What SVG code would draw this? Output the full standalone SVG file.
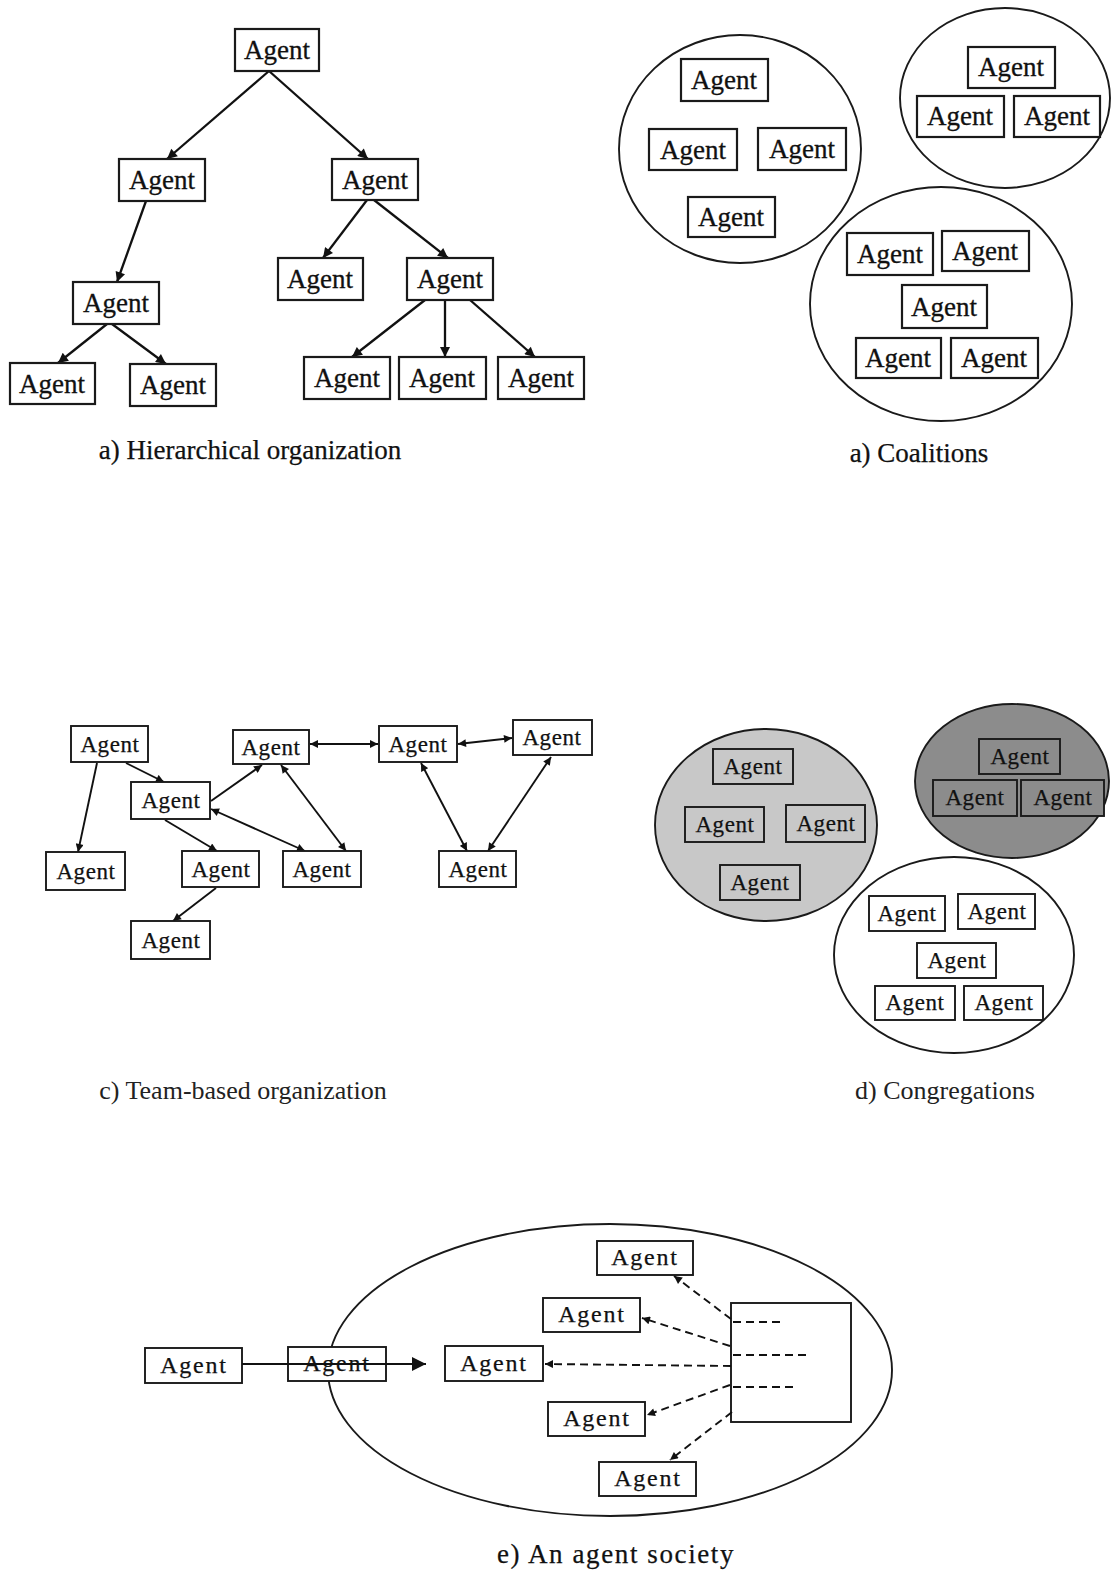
<svg xmlns="http://www.w3.org/2000/svg" width="1111" height="1573" viewBox="0 0 1111 1573">
  <style>
    .bg { fill: #ffffff; }
    .box { fill: #ffffff; stroke: #1a1a1a; stroke-width: 2.2; }
    .boxs { fill: #ffffff; stroke: #1a1a1a; stroke-width: 1.9; }
    .lt { fill: #c8c8c8; stroke: #1a1a1a; stroke-width: 1.9; }
    .dk { fill: #8c8c8c; stroke: #1a1a1a; stroke-width: 1.9; }
    .ring { fill: none; stroke: #1a1a1a; stroke-width: 1.9; }
    .lbl { font-family: "Liberation Serif", "Times New Roman", serif; font-size: 27px; fill: #111; stroke: #111; stroke-width: 0.3; text-anchor: middle; }
    .lbls { font-family: "Liberation Serif", "Times New Roman", serif; font-size: 23px; fill: #111; stroke: #111; stroke-width: 0.25; text-anchor: middle; letter-spacing: 0.6px; }
    .lble { font-family: "Liberation Serif", "Times New Roman", serif; font-size: 24px; fill: #111; stroke: #111; stroke-width: 0.25; text-anchor: middle; letter-spacing: 1.8px; }
    .cap { font-family: "Liberation Serif", "Times New Roman", serif; font-size: 27px; fill: #111; stroke: #111; stroke-width: 0.25; text-anchor: middle; }
    .capg { font-family: "Liberation Serif", "Times New Roman", serif; font-size: 26px; fill: #222; text-anchor: middle; }
    .edge { fill: none; stroke: #111; stroke-width: 2.3; }
    .edges { fill: none; stroke: #111; stroke-width: 1.9; }
    .dash { fill: none; stroke: #111; stroke-width: 1.9; stroke-dasharray: 8 5; }
  </style>
  <defs>
    <marker id="ah" viewBox="0 0 10 10" refX="10" refY="5" markerWidth="13" markerHeight="10" markerUnits="userSpaceOnUse" orient="auto-start-reverse">
      <path d="M0,0 L10,5 L0,10 z" fill="#111"/>
    </marker>
    <marker id="ahs" viewBox="0 0 10 10" refX="10" refY="5" markerWidth="10" markerHeight="8" markerUnits="userSpaceOnUse" orient="auto-start-reverse">
      <path d="M0,0 L10,5 L0,10 z" fill="#111"/>
    </marker>
    <marker id="ahb" viewBox="0 0 10 10" refX="10" refY="5" markerWidth="18" markerHeight="14" markerUnits="userSpaceOnUse" orient="auto">
      <path d="M0,0 L10,5 L0,10 z" fill="#111"/>
    </marker>
  </defs>
  <rect class="bg" x="0" y="0" width="1111" height="1573"/>

  <!-- a) Hierarchical organization -->
  <g id="hier-edges">
    <line class="edge" x1="269" y1="71" x2="167" y2="159" marker-end="url(#ah)"/>
    <line class="edge" x1="269" y1="71" x2="368" y2="159" marker-end="url(#ah)"/>
    <line class="edge" x1="146" y1="201" x2="117" y2="282" marker-end="url(#ah)"/>
    <line class="edge" x1="107" y1="324" x2="58" y2="363" marker-end="url(#ah)"/>
    <line class="edge" x1="112" y1="324" x2="166" y2="364" marker-end="url(#ah)"/>
    <line class="edge" x1="367" y1="200" x2="323" y2="258" marker-end="url(#ah)"/>
    <line class="edge" x1="374" y1="200" x2="448" y2="258" marker-end="url(#ah)"/>
    <line class="edge" x1="425" y1="300" x2="352" y2="357" marker-end="url(#ah)"/>
    <line class="edge" x1="445" y1="300" x2="445" y2="357" marker-end="url(#ah)"/>
    <line class="edge" x1="470" y1="300" x2="535" y2="357" marker-end="url(#ah)"/>
  </g>
  <g id="h-root"><rect class="box" x="235" y="29" width="84" height="42"/><text class="lbl" x="277" y="59">Agent</text></g>
  <g id="h-l1a"><rect class="box" x="119" y="159" width="86" height="42"/><text class="lbl" x="162" y="189">Agent</text></g>
  <g id="h-l1b"><rect class="box" x="332" y="159" width="86" height="41"/><text class="lbl" x="375" y="189">Agent</text></g>
  <g id="h-l2a"><rect class="box" x="73" y="282" width="86" height="42"/><text class="lbl" x="116" y="312">Agent</text></g>
  <g id="h-l2b"><rect class="box" x="278" y="258" width="85" height="42"/><text class="lbl" x="320" y="288">Agent</text></g>
  <g id="h-l2c"><rect class="box" x="407" y="258" width="86" height="42"/><text class="lbl" x="450" y="288">Agent</text></g>
  <g id="h-b1"><rect class="box" x="10" y="363" width="85" height="41"/><text class="lbl" x="52" y="393">Agent</text></g>
  <g id="h-b2"><rect class="box" x="130" y="364" width="86" height="42"/><text class="lbl" x="173" y="394">Agent</text></g>
  <g id="h-b3"><rect class="box" x="304" y="357" width="86" height="42"/><text class="lbl" x="347" y="387">Agent</text></g>
  <g id="h-b4"><rect class="box" x="399" y="357" width="87" height="42"/><text class="lbl" x="442" y="387">Agent</text></g>
  <g id="h-b5"><rect class="box" x="498" y="357" width="86" height="42"/><text class="lbl" x="541" y="387">Agent</text></g>
  <text class="cap" x="250" y="459">a) Hierarchical organization</text>

  <!-- b) Coalitions -->
  <g id="coalition-1">
    <ellipse class="ring" cx="740" cy="149" rx="121" ry="114"/>
    <rect class="box" x="681" y="59" width="87" height="42"/><text class="lbl" x="724" y="89">Agent</text>
    <rect class="box" x="649" y="129" width="88" height="41"/><text class="lbl" x="693" y="159">Agent</text>
    <rect class="box" x="758" y="128" width="88" height="42"/><text class="lbl" x="802" y="158">Agent</text>
    <rect class="box" x="688" y="197" width="87" height="40"/><text class="lbl" x="731" y="226">Agent</text>
  </g>
  <g id="coalition-2">
    <ellipse class="ring" cx="1005" cy="98" rx="105" ry="90"/>
    <rect class="box" x="968" y="47" width="87" height="41"/><text class="lbl" x="1011" y="76">Agent</text>
    <rect class="box" x="917" y="96" width="87" height="41"/><text class="lbl" x="960" y="125">Agent</text>
    <rect class="box" x="1014" y="96" width="86" height="41"/><text class="lbl" x="1057" y="125">Agent</text>
  </g>
  <g id="coalition-3">
    <ellipse class="ring" cx="941" cy="304" rx="131" ry="117"/>
    <rect class="box" x="847" y="233" width="86" height="42"/><text class="lbl" x="890" y="263">Agent</text>
    <rect class="box" x="942" y="231" width="87" height="40"/><text class="lbl" x="985" y="260">Agent</text>
    <rect class="box" x="902" y="285" width="85" height="43"/><text class="lbl" x="944" y="316">Agent</text>
    <rect class="box" x="856" y="338" width="85" height="40"/><text class="lbl" x="898" y="367">Agent</text>
    <rect class="box" x="951" y="338" width="87" height="40"/><text class="lbl" x="994" y="367">Agent</text>
  </g>
  <text class="cap" x="919" y="462">a) Coalitions</text>

  <!-- c) Team-based organization -->
  <g id="team-edges">
    <line class="edges" x1="97" y1="763" x2="78" y2="852" marker-end="url(#ahs)"/>
    <line class="edges" x1="126" y1="763" x2="164" y2="782" marker-end="url(#ahs)"/>
    <line class="edges" x1="211" y1="801" x2="262" y2="765" marker-end="url(#ahs)"/>
    <line class="edges" x1="211" y1="809" x2="305" y2="851" marker-start="url(#ahs)" marker-end="url(#ahs)"/>
    <line class="edges" x1="281" y1="765" x2="346" y2="851" marker-start="url(#ahs)" marker-end="url(#ahs)"/>
    <line class="edges" x1="310" y1="744" x2="378" y2="744" marker-start="url(#ahs)" marker-end="url(#ahs)"/>
    <line class="edges" x1="458" y1="744" x2="512" y2="738" marker-start="url(#ahs)" marker-end="url(#ahs)"/>
    <line class="edges" x1="421" y1="763" x2="467" y2="851" marker-start="url(#ahs)" marker-end="url(#ahs)"/>
    <line class="edges" x1="551" y1="757" x2="488" y2="851" marker-start="url(#ahs)" marker-end="url(#ahs)"/>
    <line class="edges" x1="165" y1="820" x2="217" y2="851" marker-end="url(#ahs)"/>
    <line class="edges" x1="216" y1="888" x2="173" y2="921" marker-end="url(#ahs)"/>
  </g>
  <g id="t-1"><rect class="boxs" x="71" y="726" width="77" height="36"/><text class="lbls" x="110" y="752">Agent</text></g>
  <g id="t-2"><rect class="boxs" x="233" y="730" width="76" height="34"/><text class="lbls" x="271" y="755">Agent</text></g>
  <g id="t-3"><rect class="boxs" x="379" y="726" width="78" height="36"/><text class="lbls" x="418" y="752">Agent</text></g>
  <g id="t-4"><rect class="boxs" x="513" y="720" width="79" height="35"/><text class="lbls" x="552" y="745">Agent</text></g>
  <g id="t-5"><rect class="boxs" x="131" y="782" width="79" height="37"/><text class="lbls" x="171" y="808">Agent</text></g>
  <g id="t-6"><rect class="boxs" x="46" y="852" width="79" height="38"/><text class="lbls" x="86" y="879">Agent</text></g>
  <g id="t-7"><rect class="boxs" x="182" y="851" width="77" height="36"/><text class="lbls" x="221" y="877">Agent</text></g>
  <g id="t-8"><rect class="boxs" x="283" y="851" width="78" height="36"/><text class="lbls" x="322" y="877">Agent</text></g>
  <g id="t-9"><rect class="boxs" x="439" y="851" width="77" height="36"/><text class="lbls" x="478" y="877">Agent</text></g>
  <g id="t-10"><rect class="boxs" x="131" y="921" width="79" height="38"/><text class="lbls" x="171" y="948">Agent</text></g>
  <text class="capg" x="243" y="1099">c) Team-based organization</text>

  <!-- d) Congregations -->
  <g id="congregation-light">
    <ellipse class="lt" cx="766" cy="825" rx="111" ry="96"/>
    <rect class="lt" x="713" y="749" width="80" height="35"/><text class="lbls" x="753" y="774">Agent</text>
    <rect class="lt" x="685" y="807" width="79" height="35"/><text class="lbls" x="725" y="832">Agent</text>
    <rect class="lt" x="786" y="805" width="79" height="37"/><text class="lbls" x="826" y="831">Agent</text>
    <rect class="lt" x="720" y="865" width="80" height="35"/><text class="lbls" x="760" y="890">Agent</text>
  </g>
  <g id="congregation-dark">
    <ellipse class="dk" cx="1012" cy="781" rx="97" ry="77"/>
    <rect class="dk" x="979" y="739" width="81" height="35"/><text class="lbls" x="1020" y="764">Agent</text>
    <rect class="dk" x="933" y="780" width="84" height="36"/><text class="lbls" x="975" y="805">Agent</text>
    <rect class="dk" x="1021" y="780" width="83" height="36"/><text class="lbls" x="1063" y="805">Agent</text>
  </g>
  <g id="congregation-open">
    <ellipse class="ring" cx="954" cy="955" rx="120" ry="98"/>
    <rect class="boxs" x="869" y="896" width="76" height="35"/><text class="lbls" x="907" y="921">Agent</text>
    <rect class="boxs" x="958" y="894" width="77" height="35"/><text class="lbls" x="997" y="919">Agent</text>
    <rect class="boxs" x="917" y="943" width="79" height="35"/><text class="lbls" x="957" y="968">Agent</text>
    <rect class="boxs" x="875" y="986" width="80" height="34"/><text class="lbls" x="915" y="1010">Agent</text>
    <rect class="boxs" x="964" y="986" width="79" height="34"/><text class="lbls" x="1004" y="1010">Agent</text>
  </g>
  <text class="capg" x="945" y="1099">d) Congregations</text>

  <!-- e) An agent society -->
  <ellipse id="society" class="ring" cx="610" cy="1370" rx="282" ry="146"/>
  <g id="s-outside"><rect class="boxs" x="145" y="1348" width="97" height="35"/><text class="lble" x="194" y="1373">Agent</text></g>
  <g id="s-entering"><rect class="boxs" x="288" y="1347" width="98" height="34"/><text class="lble" x="337" y="1371">Agent</text></g>
  <g id="s-center"><rect class="boxs" x="445" y="1346" width="98" height="35"/><text class="lble" x="494" y="1371">Agent</text></g>
  <g id="s-top"><rect class="boxs" x="597" y="1241" width="96" height="34"/><text class="lble" x="645" y="1265">Agent</text></g>
  <g id="s-upper"><rect class="boxs" x="543" y="1298" width="97" height="34"/><text class="lble" x="592" y="1322">Agent</text></g>
  <g id="s-lower"><rect class="boxs" x="548" y="1402" width="97" height="34"/><text class="lble" x="597" y="1426">Agent</text></g>
  <g id="s-bottom"><rect class="boxs" x="599" y="1462" width="97" height="34"/><text class="lble" x="648" y="1486">Agent</text></g>
  <g id="s-registry">
    <rect class="boxs" x="731" y="1303" width="120" height="119"/>
    <line class="dash" x1="733" y1="1322" x2="782" y2="1322"/>
    <line class="dash" x1="733" y1="1355" x2="808" y2="1355"/>
    <line class="dash" x1="733" y1="1387" x2="795" y2="1387"/>
  </g>
  <g id="society-edges">
    <line class="edges" x1="242" y1="1364" x2="426" y2="1364" marker-end="url(#ahb)"/>
    <line class="dash" x1="731" y1="1319" x2="674" y2="1276" marker-end="url(#ahs)"/>
    <line class="dash" x1="730" y1="1346" x2="642" y2="1318" marker-end="url(#ahs)"/>
    <line class="dash" x1="731" y1="1366" x2="545" y2="1364" marker-end="url(#ahs)"/>
    <line class="dash" x1="730" y1="1385" x2="647" y2="1415" marker-end="url(#ahs)"/>
    <line class="dash" x1="732" y1="1412" x2="670" y2="1460" marker-end="url(#ahs)"/>
  </g>
  <text class="cap" x="616" y="1563" style="letter-spacing:1.6px">e) An agent society</text>
</svg>
